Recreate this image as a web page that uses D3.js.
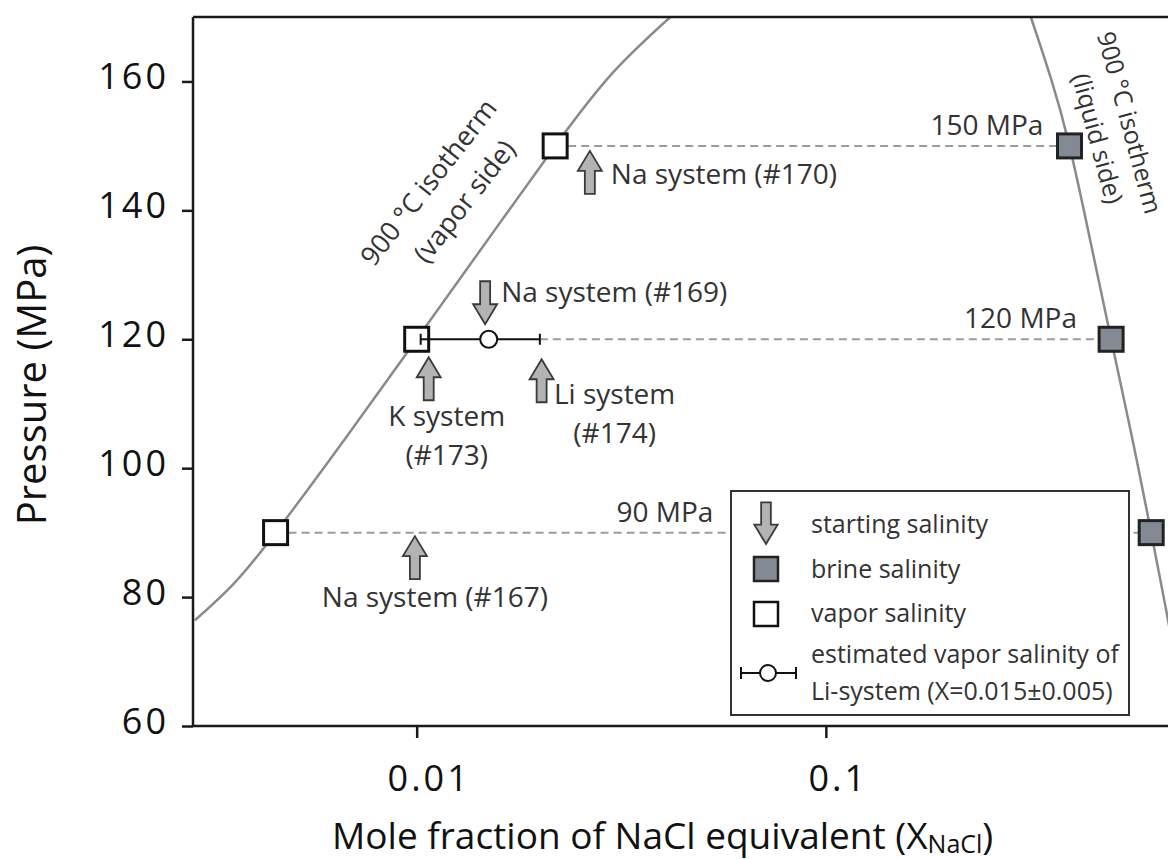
<!DOCTYPE html>
<html>
<head>
<meta charset="utf-8">
<script src="https://cdn.jsdelivr.net/npm/d3@7"></script>
<style>
    body { margin: 0; background: #fff; }
    svg { display: block; font-family: "Open Sans", sans-serif; }
</style>
</head>
<body>
<div id="chart-area"></div>
<script>
// experiment pressures (MPa) with measured vapor / brine salinity (X NaCl)
var pressureLevels = [90, 120, 150];
var vaporSalinity = [0.00452, 0.0100, 0.0218];
var brineSalinity = [0.624, 0.498, 0.394];
var pressureLabels = ["90 MPa", "120 MPa", "150 MPa"];
var pressureLabelAt = [0.0531, 0.411, 0.340];

// 900 °C isotherm, vapor side and liquid side
var vaporIsoX = [0.00287, 0.00355, 0.00452, 0.00676, 0.0100, 0.01479, 0.0218, 0.0302, 0.0417];
var vaporIsoP = [76.4, 81.9, 90, 105.0, 120, 135.1, 150, 161.4, 170];
var liquidIsoX = [0.317, 0.3548, 0.394, 0.4436, 0.498, 0.5585, 0.624, 0.676, 0.7244];
var liquidIsoP = [170, 160.5, 150, 135.1, 120, 105.2, 90, 78.6, 68.4];

// starting salinities (arrows)
var startLabels = [["Na system (#170)"], ["Na system (#169)"], ["K system", "(#173)"], ["Li system", "(#174)"], ["Na system (#167)"]];
var startSalinity = [0.0265, 0.0147, 0.0107, 0.0202, 0.0099];
var startPressure = [150, 120, 120, 120, 90];
var startDirection = ["up", "down", "up", "up", "up"];

// estimated vapor salinity of Li-system
var liEstimate = 0.015, liError = 0.005, liPressure = 120;

var yTicks = [60, 80, 100, 120, 140, 160];
var xTicks = [0.01, 0.1];

// layout
var width = 1168, height = 859;
var plot = { left: 193, top: 17, right: 1235, bottom: 726 };
var arrowGap = [5, -15, 18, 20, 3.5];
var labelPos = [
    { dx: 21, dy: 33, anchor: "start" },
    { dx: 16, dy: -22, anchor: "start" },
    { dx: 18, dy: 69, anchor: "middle" },
    { dx: 73, dy: 45, anchor: "middle" },
    { dx: 20, dy: 71, anchor: "middle" }
];
var noteSize = 28;

var svg = d3.select("#chart-area")
    .append("svg")
    .attr("width", width)
    .attr("height", height);

var x = d3.scaleLog()
    .domain([0.00284, 1])
    .range([plot.left, plot.right]);

var y = d3.scaleLinear()
    .domain([60, 170])
    .range([plot.bottom, plot.top]);

svg.append("clipPath").attr("id", "clip")
    .append("rect")
    .attr("x", plot.left).attr("y", plot.top)
    .attr("width", plot.right - plot.left).attr("height", plot.bottom - plot.top);

var g = svg.append("g").attr("clip-path", "url(#clip)");

// isotherms
var line = d3.line().x(d => x(d[0])).y(d => y(d[1])).curve(d3.curveNatural);
g.append("path")
    .attr("d", line(vaporIsoX.map((v, i) => [v, vaporIsoP[i]])))
    .attr("fill", "none").attr("stroke", "#8a8a8a").attr("stroke-width", 2.5);
g.append("path")
    .attr("d", line(liquidIsoX.map((v, i) => [v, liquidIsoP[i]])))
    .attr("fill", "none").attr("stroke", "#8a8a8a").attr("stroke-width", 2.5);

// dashed tie lines
pressureLevels.forEach((p, i) => {
    var x0 = p === liPressure ? liEstimate + liError : vaporSalinity[i];
    g.append("line")
        .attr("x1", x(x0)).attr("x2", x(brineSalinity[i]))
        .attr("y1", y(p)).attr("y2", y(p))
        .attr("stroke", "#9c9c9c").attr("stroke-width", 2)
        .attr("stroke-dasharray", "8,5");
});

// squares
var sq = 24;
g.selectAll(".vapor")
    .data(pressureLevels)
    .enter().append("rect")
    .attr("class", "vapor")
    .attr("x", (d, i) => x(vaporSalinity[i]) - sq / 2)
    .attr("y", d => y(d) - sq / 2)
    .attr("width", sq).attr("height", sq)
    .attr("fill", "#fff").attr("stroke", "#111").attr("stroke-width", 3);

g.selectAll(".brine")
    .data(pressureLevels)
    .enter().append("rect")
    .attr("class", "brine")
    .attr("x", (d, i) => x(brineSalinity[i]) - sq / 2)
    .attr("y", d => y(d) - sq / 2)
    .attr("width", sq).attr("height", sq)
    .attr("fill", "#848a93").attr("stroke", "#222").attr("stroke-width", 3);

// Li-system error bar
function errorBar(sel, cx, xl, xr, cy, r, cap) {
    sel.append("line").attr("x1", xl).attr("x2", xr).attr("y1", cy).attr("y2", cy)
        .attr("stroke", "#111").attr("stroke-width", 2);
    [xl, xr].forEach(xx => sel.append("line")
        .attr("x1", xx).attr("x2", xx).attr("y1", cy - cap).attr("y2", cy + cap)
        .attr("stroke", "#111").attr("stroke-width", 2));
    sel.append("circle").attr("cx", cx).attr("cy", cy).attr("r", r)
        .attr("fill", "#fff").attr("stroke", "#111").attr("stroke-width", 2);
}
errorBar(g, x(liEstimate), x(liEstimate - liError) + 4, x(liEstimate + liError), y(liPressure), 8.5, 5.5);

// arrows
function arrowPath(dir, s) {
    s = s || 1;
    var sign = dir === "up" ? 1 : -1;
    var pts = [[0, 0], [12, 20], [5, 20], [5, 43], [-5, 43], [-5, 20], [-12, 20]];
    return d3.line()(pts.map(p => [p[0] * s, sign * p[1] * s])) + "Z";
}

startSalinity.forEach((v, i) => {
    var tx = x(v), ty = y(startPressure[i]) + arrowGap[i];
    svg.append("path")
        .attr("transform", "translate(" + tx + "," + ty + ")")
        .attr("d", arrowPath(startDirection[i]))
        .attr("fill", "#b3b3b3").attr("stroke", "#3a3a3a").attr("stroke-width", 1.8);
    var t = svg.append("text")
        .attr("x", tx + labelPos[i].dx)
        .attr("y", ty + labelPos[i].dy)
        .attr("text-anchor", labelPos[i].anchor)
        .attr("font-size", noteSize).attr("fill", "#333");
    startLabels[i].forEach((s, k) => {
        t.append("tspan").attr("x", tx + labelPos[i].dx).attr("dy", k === 0 ? 0 : 38.5).text(s);
    });
});

// pressure labels
pressureLevels.forEach((p, i) => {
    svg.append("text")
        .attr("x", x(pressureLabelAt[i]))
        .attr("y", y(p) - 11)
        .attr("text-anchor", "end")
        .attr("font-size", noteSize).attr("fill", "#333")
        .text(pressureLabels[i]);
});

// isotherm labels
var vLab = svg.append("g").attr("transform", "translate(436,188) rotate(-52)");
vLab.append("text").attr("text-anchor", "middle").attr("font-size", 27).attr("fill", "#333")
    .text("900 \u00B0C isotherm");
vLab.append("text").attr("text-anchor", "middle").attr("font-size", 27).attr("fill", "#333")
    .attr("x", 7).attr("y", 40).text("(vapor side)");

var lLab = svg.append("g").attr("transform", "translate(1121,125) rotate(75)");
lLab.append("text").attr("text-anchor", "middle").attr("font-size", 25).attr("fill", "#333")
    .text("900 \u00B0C isotherm");
lLab.append("text").attr("text-anchor", "middle").attr("font-size", 25).attr("fill", "#333")
    .attr("x", 7).attr("y", 35).text("(liquid side)");

// frame
svg.append("line").attr("x1", plot.left).attr("x2", width).attr("y1", plot.top).attr("y2", plot.top)
    .attr("stroke", "#1a1a1a").attr("stroke-width", 2.5);

// axes
var yAxis = svg.append("g")
    .attr("transform", "translate(" + plot.left + ",0)")
    .call(d3.axisLeft(y).tickValues(yTicks).tickSize(11).tickSizeOuter(0).tickPadding(13));
var xAxis = svg.append("g")
    .attr("transform", "translate(0," + plot.bottom + ")")
    .call(d3.axisBottom(x).tickValues(xTicks).tickFormat(d => String(d)).tickSize(12).tickSizeOuter(0).tickPadding(27));

[yAxis, xAxis].forEach(a => {
    a.select(".domain").attr("stroke", "#1a1a1a").attr("stroke-width", 2.5);
    a.selectAll(".tick line").attr("stroke", "#1a1a1a").attr("stroke-width", 2.5);
    a.selectAll(".tick text")
        .attr("font-size", 36).attr("font-family", "'Open Sans', sans-serif")
        .attr("fill", "#111").style("letter-spacing", "3px");
});
yAxis.selectAll(".tick text").attr("dy", "0.2em");
xAxis.selectAll(".tick text").attr("dx", 12);
// extend domain lines to the full frame
yAxis.select(".domain").attr("d", "M0," + plot.top + "V" + plot.bottom);
xAxis.select(".domain").attr("d", "M" + plot.left + ",0H" + width);

// axis titles
svg.append("text")
    .attr("transform", "translate(46,385) rotate(-90)")
    .attr("text-anchor", "middle")
    .attr("font-size", 40).attr("fill", "#111")
    .text("Pressure (MPa)");

var xt = svg.append("text")
    .attr("x", 332).attr("y", 849)
    .attr("font-size", 37).attr("fill", "#111");
xt.append("tspan").text("Mole fraction of NaCl equivalent (X");
xt.append("tspan").attr("font-size", 25).attr("dy", 4).text("NaCl");
xt.append("tspan").attr("dy", -4).text(")");

// legend
var lg = svg.append("g");
lg.append("rect")
    .attr("x", 731).attr("y", 491).attr("width", 398).attr("height", 224)
    .attr("fill", "#fff").attr("stroke", "#333").attr("stroke-width", 2);
lg.append("path")
    .attr("transform", "translate(766,544)")
    .attr("d", arrowPath("down", 0.97))
    .attr("fill", "#b3b3b3").attr("stroke", "#3a3a3a").attr("stroke-width", 1.8);
lg.append("rect").attr("x", 766 - sq / 2).attr("y", 569 - sq / 2).attr("width", sq).attr("height", sq)
    .attr("fill", "#848a93").attr("stroke", "#222").attr("stroke-width", 2.5);
lg.append("rect").attr("x", 766 - sq / 2).attr("y", 614 - sq / 2).attr("width", sq).attr("height", sq)
    .attr("fill", "#fff").attr("stroke", "#111").attr("stroke-width", 2.5);
errorBar(lg, 768, 741, 796, 673, 8, 6);

var legendText = ["starting salinity", "brine salinity", "vapor salinity", "estimated vapor salinity of", "Li-system (X=0.015\u00B10.005)"];
var legendBase = [533, 578, 622, 663, 700];
lg.selectAll(".lt")
    .data(legendText)
    .enter().append("text")
    .attr("class", "lt")
    .attr("x", 811)
    .attr("y", (d, i) => legendBase[i])
    .attr("font-size", 25).attr("fill", "#333")
    .text(d => d);
</script>
</body>
</html>
